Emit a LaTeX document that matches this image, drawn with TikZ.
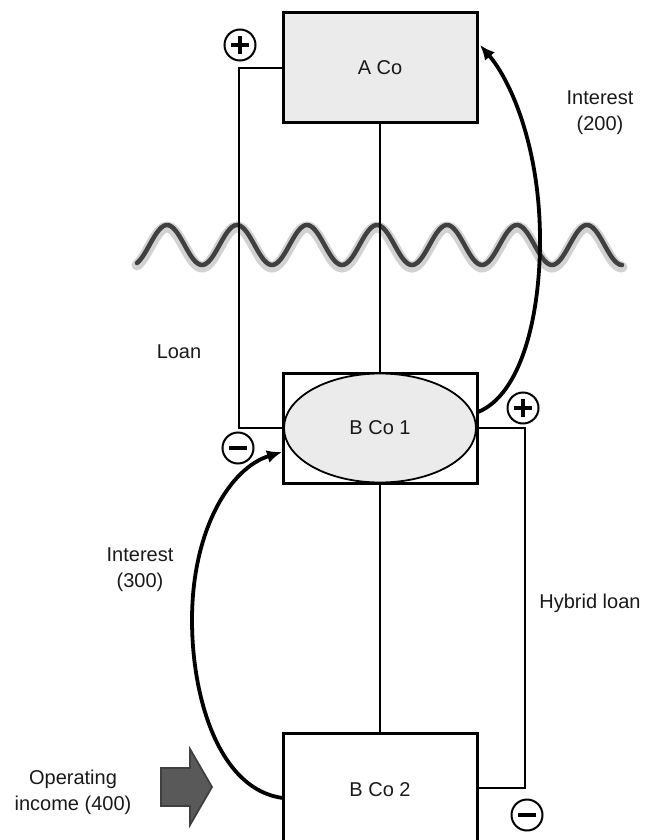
\documentclass[tikz,border=0pt]{standalone}
\usepackage{fontspec}
\setmainfont{Liberation Sans}
\usetikzlibrary{arrows.meta,shapes.geometric,calc}
\definecolor{boxgrey}{HTML}{EBEBEB}
\definecolor{wavegrey}{HTML}{404040}
\definecolor{glowgrey}{HTML}{D2D2D2}
\definecolor{arrowfill}{HTML}{595959}
\begin{document}
\begin{tikzpicture}[x=1pt,y=-1pt,
  every node/.style={font=\fontsize{20}{26}\selectfont, text=black!90},
  company/.style={draw, line width=3pt, minimum width=194pt, minimum height=110pt, inner sep=0pt},
  oval/.style={ellipse, draw, line width=1.8pt, fill=boxgrey, minimum width=192pt, minimum height=109pt, inner sep=0pt},
  link/.style={line width=2pt},
  flow/.style={line width=3.8pt, -{Latex[length=15pt,width=13pt]}},
  sign/.style={circle, draw, line width=2pt, minimum size=31pt, inner sep=0pt},
  signbar/.style={line width=3.2pt},
  label/.style={align=center, inner sep=0pt}
]
\useasboundingbox (0,0) rectangle (645,840);

% wave (boundary)
\draw[glowgrey, line width=11pt, line cap=round, yshift=-2pt]
  plot[domain=137:622, samples=200, smooth] (\x, {245-20*cos(5.142857*(\x-167))});
\draw[wavegrey, line width=4.5pt, line cap=round]
  plot[domain=137:622, samples=200, smooth] (\x, {245-20*cos(5.142857*(\x-167))});

% companies
\node[company, fill=boxgrey] (aco) at (380,68) {A Co};
\node[company] (bco1box) at (380,428) {};
\node[oval] (bco1) at (380,428) {B Co 1};
\node[company, minimum height=114pt] (bco2) at (380,790) {B Co 2};

% ownership / loans
\draw[link] (aco.south) -- (bco1box.north);
\draw[link] (bco1box.south) -- (bco2.north);
\coordinate (loanTop) at (239,68);
\draw[link] (aco.west) -- (loanTop) |- (bco1box.west);
\coordinate (hybTop) at (525,428);
\coordinate (hybBot) at (525,788);
\coordinate (bco2east) at (478,788);
\draw[link] (bco1box.east) -- (hybTop) -- (hybBot) -- (bco2east);

% signs
\node[sign] (plusA) at (240,45) {};
\draw[signbar] ($(plusA)+(-9,0)$) -- ($(plusA)+(9,0)$) ($(plusA)+(0,-9)$) -- ($(plusA)+(0,9)$);
\node[sign] (minusB1) at (238,448) {};
\draw[signbar] ($(minusB1)+(-9,0)$) -- ($(minusB1)+(9,0)$);
\node[sign] (plusB1) at (523,408) {};
\draw[signbar] ($(plusB1)+(-9,0)$) -- ($(plusB1)+(9,0)$) ($(plusB1)+(0,-9)$) -- ($(plusB1)+(0,9)$);
\node[sign] (minusB2) at (527,815) {};
\draw[signbar] ($(minusB2)+(-9,0)$) -- ($(minusB2)+(9,0)$);

% interest flows
\coordinate (i3start) at (283,798);
\coordinate (i3mid) at (192,620);
\coordinate (i3end) at (282,452);
\draw[flow] (i3start) .. controls (220,790) and (192,700) .. (i3mid)
  .. controls (192,530) and (230,468) .. (i3end);
\coordinate (i2start) at (478,412);
\coordinate (i2mid) at (540,240);
\coordinate (i2end) at (480,45);
\draw[flow] (i2start) .. controls (520,395) and (540,320) .. (i2mid)
  .. controls (540,150) and (512,82) .. (i2end);

% operating income arrow
\draw[fill=arrowfill, draw=wavegrey, line width=1.8pt, line join=miter]
  (161,768) -- (190,768) -- (190,749) -- (212,787) -- (190,825) -- (190,806) -- (161,806) -- cycle;

% labels
\node[label] (lLoan) at (179,352) {Loan};
\node[label] (lHyb) at (590,603) {Hybrid loan};
\node[label] (lI2) at (600,113) {Interest\\(200)};
\node[label] (lI3) at (140,570) {Interest\\(300)};
\node[label] (lOp) at (73,792) {Operating\\income (400)};
\end{tikzpicture}
\end{document}
